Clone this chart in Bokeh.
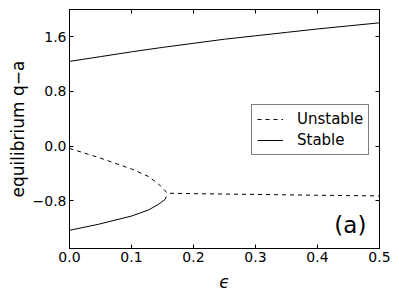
import math
from bokeh.plotting import figure
from bokeh.models import Range1d, LinearAxis, FixedTicker, Label, Legend, LegendItem
from bokeh.embed import file_html
from bokeh.resources import INLINE

# ---- data ----
eps_stable_upper = [0.0, 0.05, 0.1, 0.15, 0.2, 0.25, 0.3, 0.35, 0.4, 0.45, 0.5]
q_stable_upper = [1.24, 1.31, 1.38, 1.445, 1.505, 1.565, 1.615, 1.665, 1.715, 1.76, 1.805]

eps_stable_lower = [0.0, 0.047, 0.1007, 0.1276, 0.1437, 0.1545, 0.156]
q_stable_lower = [-1.233, -1.145, -1.023, -0.935, -0.852, -0.778, -0.74]

eps_unstable = [0.0, 0.047, 0.1007, 0.1276, 0.1437, 0.1545, 0.157, 0.2, 0.3, 0.4, 0.5]
q_unstable = [-0.035, -0.167, -0.338, -0.446, -0.558, -0.656, -0.69, -0.697, -0.708, -0.72, -0.73]

x_ticks = [0.0, 0.1, 0.2, 0.3, 0.4, 0.5]
x_tick_labels = ["0.0", "0.1", "0.2", "0.3", "0.4", "0.5"]
y_ticks = [-0.8, 0.0, 0.8, 1.6]
y_tick_labels = ["\u22120.8", "0.0", "0.8", "1.6"]

FONT = "DejaVu Sans"

p = figure(width=393, height=294, output_backend="svg", toolbar_location=None,
           x_range=Range1d(0.0, 0.5), y_range=Range1d(-1.5, 2.0),
           min_border_left=69, min_border_right=14, min_border_top=9, min_border_bottom=46)
p.background_fill_color = "white"
p.border_fill_color = "white"
p.grid.visible = False
p.outline_line_color = "black"
p.outline_line_width = 1

bottom_ax = p.xaxis[0]
left_ax = p.yaxis[0]


def style_axis(ax, ticks, labels, show_labels):
    ax.ticker = FixedTicker(ticks=ticks)
    ax.major_tick_in = 4
    ax.major_tick_out = 0
    ax.minor_tick_in = 0
    ax.minor_tick_out = 0
    ax.axis_line_color = "black"
    ax.major_tick_line_color = "black"
    if show_labels:
        ax.major_label_overrides = {t: l for t, l in zip(ticks, labels)}
        ax.major_label_text_font = FONT
        ax.major_label_text_font_size = "14px"
        ax.major_label_text_color = "black"
        ax.major_label_standoff = 3
    else:
        ax.major_label_overrides = {t: "" for t in ticks}
        ax.major_label_text_font_size = "0px"
        ax.major_label_standoff = 0


style_axis(bottom_ax, x_ticks, x_tick_labels, True)
style_axis(left_ax, y_ticks, y_tick_labels, True)
top_ax = LinearAxis()
style_axis(top_ax, x_ticks, x_tick_labels, False)
p.add_layout(top_ax, "above")
right_ax = LinearAxis()
style_axis(right_ax, y_ticks, y_tick_labels, False)
p.add_layout(right_ax, "right")

# axis titles
bottom_ax.axis_label = "\u03f5"
bottom_ax.axis_label_text_font = FONT
bottom_ax.axis_label_text_font_style = "italic"
bottom_ax.axis_label_text_font_size = "17px"
bottom_ax.axis_label_text_color = "black"
bottom_ax.axis_label_standoff = 7

left_ax.axis_label = "equilibrium q\u2212a"
left_ax.axis_label_text_font = FONT
left_ax.axis_label_text_font_style = "normal"
left_ax.axis_label_text_font_size = "17px"
left_ax.axis_label_text_color = "black"
left_ax.axis_label_standoff = 2

r_unstable = p.line(eps_unstable, q_unstable, line_color="black", line_width=1, line_dash="4 4")
r_stable = p.line(eps_stable_upper, q_stable_upper, line_color="black", line_width=1)
p.line(eps_stable_lower, q_stable_lower, line_color="black", line_width=1)

legend = Legend(items=[LegendItem(label="Unstable", renderers=[r_unstable]),
                       LegendItem(label="Stable", renderers=[r_stable])],
                location=(182, 93))
legend.label_text_font = FONT
legend.label_text_font_size = "15px"
legend.label_text_color = "black"
legend.border_line_color = "black"
legend.border_line_width = 1
legend.background_fill_color = "white"
legend.background_fill_alpha = 1.0
legend.padding = 5
legend.spacing = 3
legend.margin = 0
legend.glyph_width = 26
legend.glyph_height = 16
legend.label_height = 16
legend.label_standoff = 14
p.add_layout(legend, "center")

# panel tag
p.add_layout(Label(x=0.453, y=-1.155, text="(a)",
                   text_align="center", text_baseline="middle",
                   text_font=FONT, text_font_size="23px", text_color="black"))

open("out.html", "w").write(file_html(p, INLINE))
